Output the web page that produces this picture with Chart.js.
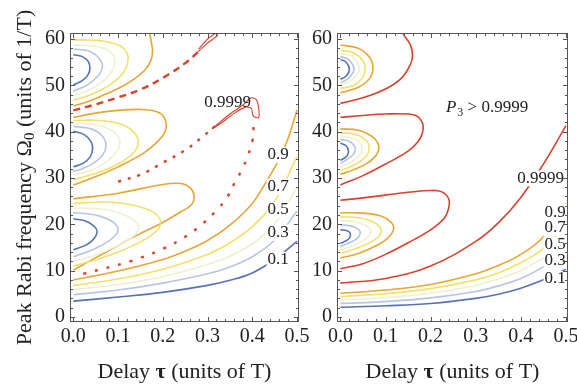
<!DOCTYPE html>
<html>
<head>
<meta charset="utf-8">
<script src="https://cdn.jsdelivr.net/npm/chart.js@4.4.1/dist/chart.umd.min.js"></script>
<style>
body { margin: 0; background: #fff; }
#wrap { position: relative; width: 577px; height: 391px; overflow: hidden; }
canvas { position: absolute; top: 0; }
</style>
</head>
<body>
<div id="wrap">
<canvas id="left" width="320" height="391" style="left:0;width:320px;height:391px"></canvas>
<canvas id="right" width="275" height="391" style="left:302px;width:275px;height:391px"></canvas>
</div>
<script>
// axis ticks
var xTicks = [0, 0.1, 0.2, 0.3, 0.4, 0.5]
var yTicks = [0, 10, 20, 30, 40, 50, 60]
var levels = ['0.1', '0.3', '0.5', '0.7', '0.9', '0.9999']
var levelColors = ['#5672b6', '#b7c4e4', '#f1efcf', '#f2e067', '#e8a534', '#d8412c']

// contour lines, [tau, Omega0]
// left panel, each level: open curve, then the three lobes
var left01 = [
  [[0,3.4],[0.1,4.3],[0.2,5.3],[0.3,6.8],[0.35,7.9],[0.4,9.5],[0.45,12.4],[0.5,16.3]],
  [[0,21.2],[0.03,20.6],[0.048,19.4],[0.053,18.4],[0.047,17],[0.03,15.6],[0,14.5]],
  [[0,40.1],[0.025,39.3],[0.04,37.8],[0.043,36.3],[0.038,34.6],[0.022,33.2],[0,32.4]],
  [[0,56.6],[0.02,56.2],[0.033,55.2],[0.037,53.7],[0.033,52.3],[0.02,51],[0,50.1]]
]
var left03 = [
  [[0,4.8],[0.1,5.8],[0.2,7.3],[0.3,9.3],[0.35,10.8],[0.4,13],[0.45,16.6],[0.5,22.8]],
  [[0,22.5],[0.05,22],[0.085,20.7],[0.1,19],[0.09,17.2],[0.06,15.3],[0.03,14],[0,13]],
  [[0,41.1],[0.04,40.6],[0.065,39],[0.073,37],[0.066,35],[0.045,33.2],[0.02,32],[0,31.4]],
  [[0,57.8],[0.02,57.7],[0.04,57.2],[0.058,55.8],[0.065,54],[0.055,52],[0.03,50],[0,48.8]]
]
var left05 = [
  [[0,5.9],[0.1,7],[0.2,8.7],[0.3,11.3],[0.35,13.1],[0.4,15.8],[0.45,20],[0.5,28]],
  [[0,23.5],[0.07,23.2],[0.12,21.8],[0.145,19.6],[0.132,17.2],[0.09,15],[0.045,13.2],[0,12]],
  [[0,41.8],[0.05,41.5],[0.09,40],[0.104,37.8],[0.095,35.5],[0.07,33.2],[0.035,31.5],[0,30.6]],
  [[0,58.7],[0.03,58.6],[0.06,58.2],[0.085,57],[0.093,55.3],[0.088,53.3],[0.07,51.2],[0.04,49.2],[0,47.7]]
]
var left07 = [
  [[0,6.8],[0.1,8.2],[0.2,10.3],[0.3,13.5],[0.35,16],[0.4,19.5],[0.45,25],[0.5,34.6]],
  [[0,24.5],[0.08,24.8],[0.14,24],[0.18,22.5],[0.195,20.6],[0.185,18.5],[0.15,16.2],[0.1,14],[0.05,12.3],[0,11]],
  [[0,42.4],[0.06,42.4],[0.11,41.5],[0.138,39.6],[0.145,37.5],[0.135,35.5],[0.1,33],[0.05,31],[0,29.6]],
  [[0,59.8],[0.03,59.8],[0.07,59.5],[0.105,58.5],[0.12,57],[0.122,55],[0.11,52.5],[0.08,50],[0.04,48],[0,46.8]]
]
var left09 = [
  [[0,8],[0.1,9.9],[0.2,12.4],[0.25,14.2],[0.3,16.5],[0.35,19.8],[0.4,24.5],[0.43,29],[0.46,34],[0.48,38.5],[0.5,44.7]],
  [[0,25.5],[0.1,26.7],[0.2,28.6],[0.24,28.8],[0.262,27.8],[0.27,26],[0.264,24.2],[0.24,22.7],[0.2,20.4],[0.142,17.6],[0.1,15.4],[0.05,12.8],[0,10.1]],
  [[0,43.1],[0.05,44],[0.1,44.6],[0.15,44.8],[0.18,44.5],[0.2,43.5],[0.208,41.5],[0.204,39.8],[0.19,38],[0.156,35.3],[0.1,32.4],[0.05,30.3],[0,28.5]],
  [[0,45.6],[0.03,46.4],[0.06,47.6],[0.1,49.3],[0.135,51.3],[0.16,53.3],[0.174,55.5],[0.177,57.5],[0.174,59.5],[0.17,61.5]]
]
// left panel 0.9999: broken (numerically noisy) pieces
var leftTopDash = [[0,44.6],[0.05,45.9],[0.1,47.4],[0.15,49.1],[0.2,51.6],[0.25,54.8],[0.28,57.3]]
var leftTopLoop = [[0.27,56.5],[0.3,59.1],[0.322,60.8],[0.318,61.2],[0.3,60],[0.28,57.8]]
var leftMidDash = [[0.1,29.2],[0.15,30.7],[0.2,33.3],[0.25,36],[0.29,39],[0.32,41.5]]
var leftHook = [[0.31,40.6],[0.35,43.8],[0.38,45.8],[0.398,47.3],[0.41,46.8],[0.415,44.5],[0.414,43],[0.402,43.4],[0.398,45],[0.385,45.3],[0.36,44],[0.33,41.8],[0.31,40.6]]
var leftLowDash = [[0.022,9.3],[0.13,12.1],[0.2,14.7],[0.25,17.3],[0.29,20.2],[0.32,23],[0.345,26],[0.362,29.2],[0.377,31.8],[0.39,34.8],[0.4,37.8],[0.403,41]]

// right panel
var right01 = [
  [[0,2.1],[0.1,2.4],[0.2,2.9],[0.3,4],[0.35,4.9],[0.4,6.2],[0.45,8],[0.5,10.3]],
  [[0,18.8],[0.015,18.6],[0.022,18],[0.02,17],[0.01,16.3],[0,15.9]],
  [[0,37.5],[0.012,37],[0.018,35.8],[0.014,34.7],[0,33.8]],
  [[0,55.6],[0.013,55],[0.02,53.4],[0.013,52],[0,51.3]]
]
var right03 = [
  [[0,2.9],[0.1,3.3],[0.2,4.1],[0.3,5.5],[0.35,6.7],[0.4,8.3],[0.45,10.8],[0.5,14.3]],
  [[0,19.9],[0.025,19.6],[0.04,18.9],[0.044,18.1],[0.038,17],[0.022,16.1],[0,15.2]],
  [[0,38.3],[0.018,38],[0.03,37.1],[0.033,36],[0.028,35],[0.015,34],[0,33.1]],
  [[0,56.2],[0.018,55.6],[0.03,53.4],[0.018,51.5],[0,50.6]]
]
var right05 = [
  [[0,3.7],[0.1,4.2],[0.2,5.1],[0.3,6.8],[0.35,8.2],[0.4,10],[0.45,12.8],[0.5,16.6]],
  [[0,20.8],[0.03,20.6],[0.058,19.6],[0.068,18.5],[0.062,17.3],[0.045,16.2],[0.02,15.1],[0,14.5]],
  [[0,39],[0.025,38.7],[0.042,37.7],[0.048,36.3],[0.043,35],[0.028,33.7],[0,32.3]],
  [[0,56.9],[0.025,56.3],[0.042,53.5],[0.025,51.2],[0,50.1]]
]
var right07 = [
  [[0,4.4],[0.1,5],[0.2,6.1],[0.3,8],[0.35,9.5],[0.4,11.7],[0.45,14.8],[0.5,20]],
  [[0,21.6],[0.04,21.4],[0.075,20.4],[0.09,19],[0.085,17.4],[0.065,16],[0.03,14.6],[0,13.7]],
  [[0,39.7],[0.03,39.5],[0.055,38.3],[0.064,36.5],[0.058,34.8],[0.04,33.3],[0.02,32.3],[0,31.6]],
  [[0,57.6],[0.03,57],[0.05,55.3],[0.055,53.5],[0.048,51.5],[0.03,50],[0,49.3]]
]
var right09 = [
  [[0,5.1],[0.1,5.8],[0.2,7],[0.3,9.3],[0.35,11.1],[0.4,13.5],[0.45,17.3],[0.5,24.5]],
  [[0,22.5],[0.05,22.4],[0.09,21.8],[0.112,20.5],[0.118,19],[0.105,17],[0.08,15.4],[0.04,13.7],[0,12.7]],
  [[0,40.6],[0.04,40.3],[0.07,39],[0.085,37],[0.08,35],[0.06,33.2],[0.03,31.8],[0,30.8]],
  [[0,58.7],[0.04,58],[0.065,56],[0.072,53.8],[0.065,51.5],[0.04,49.6],[0,48.4]]
]
var right9999 = [
  [[0,7.3],[0.1,8.3],[0.2,11],[0.3,16.3],[0.35,20.3],[0.4,25.8],[0.45,33],[0.5,41.3]],
  [[0,25.2],[0.05,25.7],[0.1,26.3],[0.15,26.9],[0.2,27.3],[0.225,27],[0.24,25.5],[0.24,23.5],[0.23,21.3],[0.2,18.8],[0.15,16],[0.1,13.5],[0.05,11.5],[0,10.4]],
  [[0,43.1],[0.05,43.5],[0.1,43.8],[0.15,43.8],[0.172,43.2],[0.183,41.5],[0.182,39.8],[0.172,37.8],[0.15,35.8],[0.1,33],[0.05,30.5],[0,28.5]],
  [[0,46.1],[0.05,47.3],[0.1,49.2],[0.135,51.5],[0.155,54.5],[0.16,56.5],[0.155,58.8],[0.143,60.5],[0.135,62]]
]

var serif = "'Liberation Serif', 'DejaVu Serif', serif"
var textColor = '#222'

function curve(pts, color, extra) {
    return Object.assign({
        data: pts.map((p) => ({x: p[0], y: p[1]})),
        showLine: true,
        borderColor: color,
        borderWidth: 1.6,
        pointRadius: 0,
        tension: 0.4,
        fill: false
    }, extra || {})
}

function levelSets(groups, colors) {
    var out = []
    groups.forEach((g, i) => {
        g.forEach((pts) => out.push(curve(pts, colors[i])))
    })
    return out
}

function drawFrame(chart) {
    var ctx = chart.ctx, a = chart.chartArea
    var xs = chart.scales.x, ys = chart.scales.y
    ctx.save()
    ctx.strokeStyle = '#555'
    ctx.lineWidth = 1
    ctx.strokeRect(a.left + 0.5, a.top + 0.5, a.right - a.left - 1, a.bottom - a.top - 1)
    ctx.beginPath()
    for (var i = 0; i <= 25; i++) {
        var px = Math.round(xs.getPixelForValue(i * 0.02)) + 0.5
        var L = i % 5 == 0 ? 5 : 3
        ctx.moveTo(px, a.bottom); ctx.lineTo(px, a.bottom - L)
        ctx.moveTo(px, a.top); ctx.lineTo(px, a.top + L)
    }
    for (var j = 0; j <= 30; j++) {
        var py = Math.round(ys.getPixelForValue(j * 2)) + 0.5
        var L2 = j % 5 == 0 ? 5 : 3
        ctx.moveTo(a.left, py); ctx.lineTo(a.left + L2, py)
        ctx.moveTo(a.right, py); ctx.lineTo(a.right - L2, py)
    }
    ctx.stroke()
    ctx.restore()
}

function drawLabels(chart, labels) {
    var ctx = chart.ctx
    var xs = chart.scales.x, ys = chart.scales.y
    ctx.save()
    ctx.font = '17px ' + serif
    ctx.textAlign = 'center'
    ctx.textBaseline = 'middle'
    labels.forEach((l) => {
        var px = xs.getPixelForValue(l.x), py = ys.getPixelForValue(l.y)
        if (l.bg) {
            var w = ctx.measureText(l.text).width
            ctx.fillStyle = '#fff'
            ctx.fillRect(px - w / 2 - 1, py - 8, w + 2, 16)
        }
        ctx.fillStyle = textColor
        ctx.fillText(l.text, px, py)
    })
    ctx.restore()
}

function drawXTitle(chart) {
    var ctx = chart.ctx, a = chart.chartArea
    var parts = [['Delay ', '22px ' + serif], ['\u03c4', 'bold 22px ' + serif], [' (units of T)', '22px ' + serif]]
    ctx.save()
    ctx.fillStyle = textColor
    ctx.textBaseline = 'middle'
    var total = 0
    parts.forEach((p) => { ctx.font = p[1]; total += ctx.measureText(p[0]).width })
    var x = (a.left + a.right) / 2 - total / 2
    parts.forEach((p) => {
        ctx.font = p[1]
        ctx.fillText(p[0], x, 372)
        x += ctx.measureText(p[0]).width
    })
    ctx.restore()
}

function drawYTitle(chart) {
    var ctx = chart.ctx, a = chart.chartArea
    var parts = [['Peak Rabi frequency \u03a9', '22px ' + serif, 0], ['0', '15px ' + serif, 5], [' (units of 1/T)', '22px ' + serif, 0]]
    ctx.save()
    ctx.translate(25, (a.top + a.bottom) / 2)
    ctx.rotate(-Math.PI / 2)
    ctx.fillStyle = textColor
    ctx.textBaseline = 'middle'
    var total = 0
    parts.forEach((p) => { ctx.font = p[1]; total += ctx.measureText(p[0]).width })
    var x = -total / 2
    parts.forEach((p) => {
        ctx.font = p[1]
        ctx.fillText(p[0], x, p[2])
        x += ctx.measureText(p[0]).width
    })
    ctx.restore()
}

function makeOptions(yWidth, padRight) {
    return {
        responsive: false,
        animation: false,
        events: [],
        layout: { padding: { top: 33, right: padRight, left: 0, bottom: 0 } },
        plugins: { legend: { display: false }, tooltip: { enabled: false } },
        scales: {
            x: {
                type: 'linear', min: -0.0075, max: 0.5045,
                grid: { display: false, drawTicks: false },
                border: { display: false },
                afterBuildTicks: (s) => { s.ticks = xTicks.map((v) => ({value: v})) },
                afterFit: (s) => { s.height = 69; s.paddingLeft = 0; s.paddingRight = 0 },
                ticks: {
                    padding: 3, maxRotation: 0, autoSkip: false,
                    color: textColor, font: { family: serif, size: 20 },
                    callback: (v) => v.toFixed(1)
                }
            },
            y: {
                type: 'linear', min: -1.1, max: 61.3,
                grid: { display: false, drawTicks: false },
                border: { display: false },
                afterBuildTicks: (s) => { s.ticks = yTicks.map((v) => ({value: v})) },
                afterFit: (s) => { s.width = yWidth },
                ticks: {
                    padding: 5, autoSkip: false,
                    color: textColor, font: { family: serif, size: 20 },
                    callback: (v) => String(v)
                }
            }
        }
    }
}

function panelPlugin(labels, yTitle, extra) {
    return {
        id: 'panel',
        afterDatasetsDraw(chart) {
            drawLabels(chart, labels)
            if (extra) extra(chart)
        },
        afterDraw(chart) {
            drawFrame(chart)
            drawXTitle(chart)
            if (yTitle) drawYTitle(chart)
        }
    }
}

// left chart
var red = levelColors[5]
var leftSets = levelSets([left01, left03, left05, left07, left09], levelColors)
leftSets.push(curve(leftTopDash, red, { borderWidth: 2.4, borderDash: [7, 5] }))
leftSets.push(curve(leftTopLoop, red, { borderWidth: 1.1, tension: 0.3 }))
leftSets.push(curve(leftMidDash, red, { borderWidth: 2.4, borderDash: [3, 7] }))
leftSets.push(curve(leftHook, red, { borderWidth: 1.1, tension: 0.3 }))
leftSets.push(curve(leftLowDash, red, { borderWidth: 2.4, borderDash: [3, 9] }))

var leftLabels = [
    { text: levels[5], x: 0.345, y: 46.2, bg: false },
    { text: levels[4], x: 0.458, y: 35, bg: true },
    { text: levels[3], x: 0.458, y: 28.1, bg: true },
    { text: levels[2], x: 0.458, y: 23.1, bg: true },
    { text: levels[1], x: 0.458, y: 18.2, bg: true },
    { text: levels[0], x: 0.458, y: 12.3, bg: true }
]

new Chart(document.getElementById('left').getContext('2d'), {
    type: 'scatter',
    data: { datasets: leftSets },
    options: makeOptions(70, 21),
    plugins: [panelPlugin(leftLabels, true)]
})

// right chart
var rightSets = levelSets([right01, right03, right05, right07, right09, right9999], levelColors)
var rightLabels = [
    { text: levels[5], x: 0.444, y: 29.9, bg: true },
    { text: levels[4], x: 0.476, y: 22.6, bg: true },
    { text: levels[3], x: 0.476, y: 19.2, bg: true },
    { text: levels[2], x: 0.476, y: 15.6, bg: true },
    { text: levels[1], x: 0.476, y: 12.1, bg: true },
    { text: levels[0], x: 0.476, y: 8.2, bg: true }
]

function drawP3(chart) {
    var ctx = chart.ctx
    var px = chart.scales.x.getPixelForValue(0.327) - 42
    var py = chart.scales.y.getPixelForValue(45.1)
    ctx.save()
    ctx.fillStyle = textColor
    ctx.textBaseline = 'middle'
    ctx.font = 'italic 17px ' + serif
    ctx.fillText('P', px, py)
    var x = px + ctx.measureText('P').width + 1
    ctx.font = '12px ' + serif
    ctx.fillText('3', x, py + 5)
    x += ctx.measureText('3').width
    ctx.font = '17px ' + serif
    ctx.fillText(' > 0.9999', x, py)
    ctx.restore()
}

new Chart(document.getElementById('right').getContext('2d'), {
    type: 'scatter',
    data: { datasets: rightSets },
    options: makeOptions(35, 9),
    plugins: [panelPlugin(rightLabels, false, drawP3)]
})
</script>
</body>
</html>
